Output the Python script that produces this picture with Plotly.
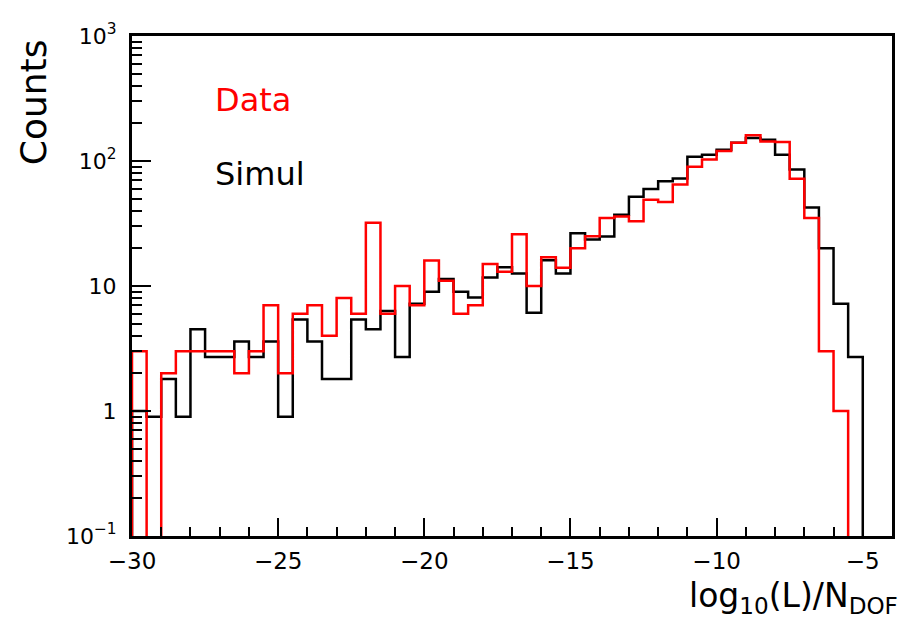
import plotly.graph_objects as go

# Histogram binning: 52 bins of width 0.5 from -30 to -4
x_start = -30.0
bin_width = 0.5

data_counts = [3, 0, 2, 3, 3, 3, 3, 2, 3, 7,
               2, 6, 7, 4, 8, 6, 32, 6, 10, 7,
               16, 11, 6, 7, 15, 13, 26, 10, 17, 14,
               20, 25, 35, 36, 33, 49, 47, 65, 90, 103,
               120, 140, 161, 143, 142, 72, 35, 3, 1, 0,
               0, 0]

simul_counts = [1.0, 0.9, 1.8, 0.9, 4.5, 2.7, 2.7, 3.6, 2.7, 3.6,
                0.9, 5.4, 3.6, 1.8, 1.8, 5.4, 4.5, 6.3, 2.7, 7.2,
                9.0, 11.4, 9.0, 8.1, 11.7, 14.1, 12.6, 6.1, 16.1, 12.6,
                26.4, 23.5, 24.9, 37.2, 51.8, 59.6, 68.9, 72.4, 108, 112,
                123, 140, 153, 148, 112, 85.7, 42.4, 20.0, 7.2, 2.7,
                0, 0]

y_tick_vals = [0.1, 1, 10, 100, 1000]
y_tick_text = ["10<sup>\u22121</sup>", "1", "10", "10<sup>2</sup>", "10<sup>3</sup>"]
x_tick_vals = [-30, -25, -20, -15, -10, -5]
x_tick_text = ["\u221230", "\u221225", "\u221220", "\u221215", "\u221210", "\u22125"]

FLOOR = 1e-4  # zero bins drawn down to (below) the axis floor on log scale


def outline(counts):
    n = len(counts)
    edges = [x_start + bin_width * i for i in range(n + 1)]
    ys = [c if c > 0 else FLOOR for c in counts]
    xs = [edges[0]] + edges[:-1] + [edges[-1], edges[-1]]
    yy = [FLOOR] + ys + [ys[-1], FLOOR]
    return xs, yy


fig = go.Figure()
sx, sy = outline(simul_counts)
fig.add_trace(go.Scatter(x=sx, y=sy, mode="lines", line=dict(color="black", width=2.5, shape="hv"),
                         showlegend=False, hoverinfo="skip"))
dx, dy = outline(data_counts)
fig.add_trace(go.Scatter(x=dx, y=dy, mode="lines", line=dict(color="#ff0000", width=2.5, shape="hv"),
                         showlegend=False, hoverinfo="skip"))

minor_y = [m * 10 ** e for e in range(-1, 3) for m in range(2, 10)]

fig.update_layout(
    width=900, height=616,
    margin=dict(l=124, r=16, t=21, b=88),
    paper_bgcolor="white", plot_bgcolor="white",
    font=dict(family="DejaVu Sans", color="black", size=22),
    xaxis=dict(range=[-30, -4], showgrid=False, zeroline=False,
               showline=True, linecolor="black", linewidth=3, mirror=True,
               ticks="inside", ticklen=18, tickwidth=2, tickcolor="black",
               tickvals=x_tick_vals, ticktext=x_tick_text,
               tickfont=dict(family="DejaVu Sans", size=23),
               ticklabelstandoff=2,
               minor=dict(ticks="inside", ticklen=9, tickwidth=2, tickcolor="black",
                          dtick=1, showgrid=False)),
    yaxis=dict(type="log", range=[-1, 3], showgrid=False, zeroline=False,
               showline=True, linecolor="black", linewidth=3, mirror=True,
               ticks="inside", ticklen=19, tickwidth=2, tickcolor="black",
               tickvals=y_tick_vals, ticktext=y_tick_text,
               tickfont=dict(family="DejaVu Sans", size=22),
               ticklabelstandoff=8,
               minor=dict(ticks="inside", ticklen=10, tickwidth=2, tickcolor="black",
                          tickvals=minor_y, showgrid=False)),
    annotations=[
        dict(text="Data", x=0.1066, y=0.872, xref="paper", yref="paper",
             xanchor="left", yanchor="middle", showarrow=False,
             font=dict(family="DejaVu Sans", size=32, color="#ff0000")),
        dict(text="Simul", x=0.1066, y=0.724, xref="paper", yref="paper",
             xanchor="left", yanchor="middle", showarrow=False,
             font=dict(family="DejaVu Sans", size=32, color="black")),
        dict(text="Counts", x=-0.130, y=0.868, xref="paper", yref="paper",
             xanchor="center", yanchor="middle", textangle=-90, showarrow=False,
             font=dict(family="DejaVu Sans", size=36, color="black")),
        dict(text="log<sub>10</sub>(L)/N<sub>DOF</sub>", x=1.0105, y=-0.122,
             xref="paper", yref="paper", xanchor="right", yanchor="middle",
             showarrow=False, font=dict(family="DejaVu Sans", size=33, color="black")),
    ],
)

fig.write_html("out.html")
